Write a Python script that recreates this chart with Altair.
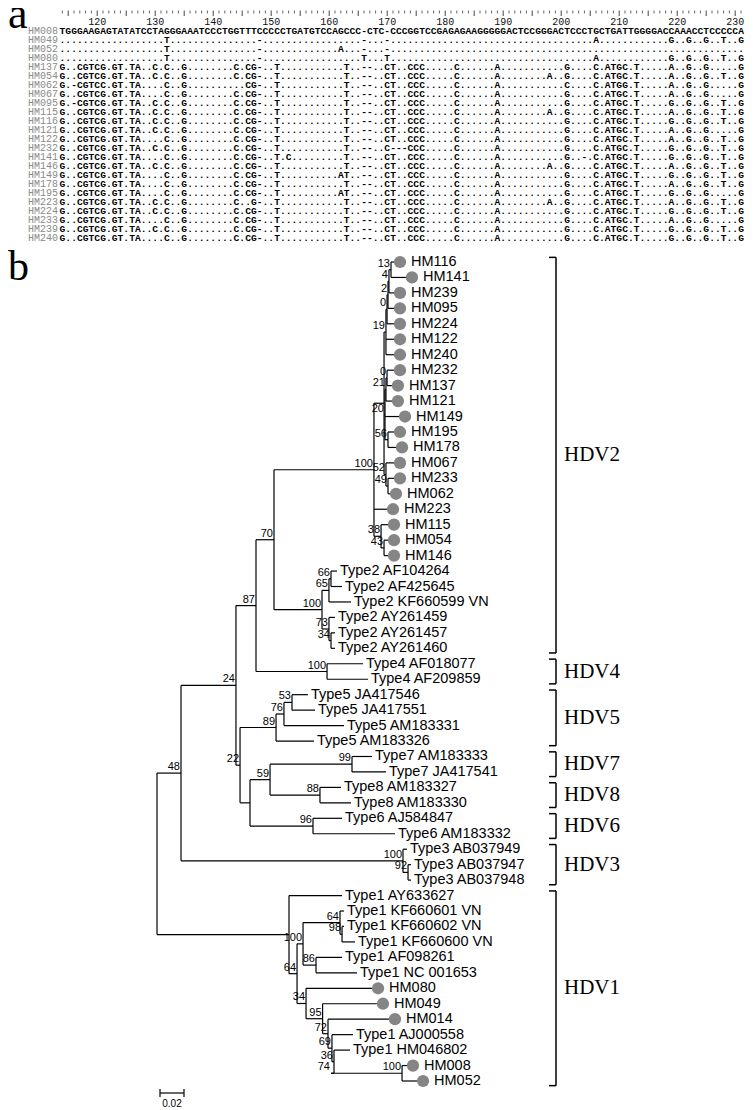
import altair as alt
import pandas as pd

W, H = 739, 1100

# ---------------- panel a : alignment ----------------
aln_first_pos = 114
ruler_label_pos = [120, 130, 140, 150, 160, 170, 180, 190, 200, 210, 220, 230]
row_names = ["HM008", "HM049", "HM052", "HM080", "HM137", "HM054", "HM062", "HM067",
             "HM095", "HM115", "HM116", "HM121", "HM122", "HM232", "HM141", "HM146",
             "HM149", "HM178", "HM195", "HM223", "HM224", "HM233", "HM239", "HM240"]
row_seqs = [
    "TGGGAAGAGTATATCCTAGGGAAATCCCTGGTTT" "CCCCCTGATGTCCAGCCC-CTC-CCC" "GGTCCGAGAGAAGGGGGACTCCGGGA" "CTCCCTGCTGATTGGGGACCAAACCTCCCCCA",
    "..................T..............." "-.................-...-..." ".........................." "......A............G..G..G..T..G",
    "..................T..............." "-.............A...-...-..." ".........................." "................................",
    "..................T..............." "-.................T...T..." ".........................." "......A............G..G..G..T..G",
    "G..CGTCG.GT.TA..C.C..G........C.CG" "-..T...........T..--..CT.." "CCC.....C......A.........." ".G....C.ATGC.T.....A..G..G.....G",
    "G..CGTCG.GT.TA..C.C..G........C.CG" "-..T...........T..--..CT.." "CCC.....C......A........A." ".G....C.ATGC.T.....A..G..G..T..G",
    "G.-CGTCC.GT.TA....C..G..........CG" "-..T...........T..--..CT.." "CCC.....C......A.........." ".C....C.ATGG.T.....A..G..G.....G",
    "G..CGTCG.GT.TA....C..G........C.CG" "-..T...........T..--..CT.." "CCC.....C......A.........." ".G....C.ATGC.T.....A..G..G.....G",
    "G.-CGTCG.GT.TA..C.C..G........C.CG" "-..T...........T..--..CT.." "CCC.....C......A.........." ".G....C.ATGC.T.....G..G..G..T..G",
    "G..CGTCG.GT.TA..C.C..G........C.CG" "-..T...........T..--..CT.." "CCC.....C......A........A." ".G....C.ATGC.T.....A..G..G..T..G",
    "G..CGTCG.GT.TA..C.C..G........C.CG" "-..T...........T..--..CT.." "CCC.....C......A.........." ".G....C.ATGC.T.....G..G..G..T..G",
    "G..CGTCG.GT.TA..C.C..G........C.CG" "-..T...........T..--..CT.." "CCC.....C......A.........." ".G....C.ATGC.T.....A..G..G.....G",
    "G..CGTCG.GT.TA....C..G........C.CG" "-..T...........T..--..CT.." "CCC.....C......A.........." ".G....C.ATGC.T.....A..G..G..T..G",
    "G..CGTCG.GT.TA..C.C..G........C.CG" "-..T...........T..--..C---" "CCC.....C......A.........." ".G....C.ATGC.T.....G..G..G..T..G",
    "G..CGTCG.GT.TA....C..G........C.CG" "-..T.C.........T..--..CT.." "CCC.....C......A.........." ".G..-.C.ATGC.T.....G..G..G..T..G",
    "G..CGTCG.GT.TA..C.C..G........C.CG" "-..T...........T..--..CT.." "CCC.....C......A........A." ".G....C.ATGC.T.....A..G..G..T..G",
    "G..CGTCG.GT.TA....C..G........C.CG" "-..T..........AT..--..CT.." "CCC.....C......A.........." ".G....C.ATGC.T.....G..G..G..T..G",
    "G..CGTCG.GT.TA....C..G........C.CG" "-..T...........T..--..CT.." "CCC.....C......A.........." ".G....C.ATGC.T.....A..G..G..T..G",
    "G..CGTCG.GT.TA....C..G........C.CG" "-..T..........AT..--..CT.." "CCC.....C......A.........." ".G....C.ATGC.T.....G..G..G.....G",
    "G..CGTCG.GT.TA..C.C..G........C..G" "-..T...........T..--..CT.." "CCC.....C......A........A." ".G....C.ATGC.T.....A..G..G..T..G",
    "G..CGTCG.GT.TA..C.C..G........C.CG" "-..T...........T..--..CT.." "CCC.....C......A.........." ".G....C.ATGC.T.....G..G..G..T..G",
    "G..CGTCG.GT.TA....C..G........C.CG" "-..T...........T..--..CT.." "CCC.....C......A.........." ".G....C.ATGC.T.....A..G..G.....G",
    "G..CGTCG.GT.TA..C.C..G........C.CG" "-..T...........T..--..CT.." "CCC.....C......A.........." ".G....C.ATGC.T.....G..G..G..T..G",
    "G..CGTCG.GT.TA....C..G........C.CG" "-..T...........T..--..CT.." "CCC.....C......A.........." ".G....C.ATGC.T.....G..G..G..T..G",
]

# ---------------- panel b : tree ----------------
leaf_names = ["HM116", "HM141", "HM239", "HM095", "HM224", "HM122", "HM240", "HM232",
              "HM137", "HM121", "HM149", "HM195", "HM178", "HM067", "HM233", "HM062",
              "HM223", "HM115", "HM054", "HM146",
              "Type2 AF104264", "Type2 AF425645", "Type2 KF660599 VN", "Type2 AY261459",
              "Type2 AY261457", "Type2 AY261460", "Type4 AF018077", "Type4 AF209859",
              "Type5 JA417546", "Type5 JA417551", "Type5 AM183331", "Type5 AM183326",
              "Type7 AM183333", "Type7 JA417541", "Type8 AM183327", "Type8 AM183330",
              "Type6 AJ584847", "Type6 AM183332", "Type3 AB037949", "Type3 AB037947",
              "Type3 AB037948", "Type1 AY633627", "Type1 KF660601 VN", "Type1 KF660602 VN",
              "Type1 KF660600 VN", "Type1 AF098261", "Type1 NC 001653", "HM080", "HM049",
              "HM014", "Type1 AJ000558", "Type1 HM046802", "HM008", "HM052"]
leaf_depth = [0.1975, 0.2075, 0.1975, 0.1975, 0.1975, 0.1975, 0.1975, 0.1975,
              0.1958, 0.1958, 0.2017, 0.1975, 0.1992, 0.1975, 0.1975, 0.1942,
              0.1917, 0.1925, 0.1925, 0.1925,
              0.1500, 0.1542, 0.1617, 0.1483, 0.1483, 0.1483, 0.1717, 0.1758,
              0.1258, 0.1317, 0.1558, 0.1308, 0.1792, 0.1908, 0.1533, 0.1617,
              0.1542, 0.1983, 0.2083, 0.2117, 0.2117, 0.1542, 0.1558, 0.1558,
              0.1650, 0.1542, 0.1667, 0.1792, 0.1833, 0.1933, 0.1633, 0.1608,
              0.2083, 0.2167]
leaf_sample = [n.startswith("HM") for n in leaf_names]

node_names = ["R", "B", "C", "F87", "F70", "S", "Top", "n19", "n0a", "n2", "n4", "n13",
              "n20", "n21", "n0b", "n56", "n52", "n49", "n38", "n43",
              "T2", "T2a", "T2aa", "T2b", "T2bb", "T4", "G", "n89", "n76", "n53",
              "K", "n59", "T7", "T8", "T6", "T3n", "T3b",
              "H1", "H1x", "H1k", "KF", "KF98", "H1af", "H1m", "H1n", "H1o", "H1p", "H1q",
              "n74", "H100"]
node_depth = [0.0, 0.020, 0.0658, 0.0825, 0.0975, 0.1808, 0.1892, 0.1908, 0.1917, 0.1925, 0.1933, 0.1950,
              0.1900, 0.1908, 0.1917, 0.1925, 0.1908, 0.1925, 0.1867, 0.1892,
              0.1375, 0.1433, 0.1450, 0.1433, 0.1450, 0.1417, 0.0692, 0.0992, 0.1058, 0.1125,
              0.0775, 0.0942, 0.1625, 0.1358, 0.1300, 0.2050, 0.2092,
              0.1100, 0.1167, 0.1217, 0.1525, 0.1542, 0.1325, 0.1242, 0.1380, 0.1425, 0.1458, 0.1475,
              0.1450, 0.2042]
node_children = [
    ["B", "H1"], ["C", "T3n"], ["F87", "G"], ["F70", "T4"], ["S", "T2"],
    ["Top", "HM223", "n38"], ["n19", "n20", "n52"], ["n0a", "HM122", "HM240"],
    ["n2", "HM224"], ["n4", "HM095"], ["n13", "HM239"], ["HM116", "HM141"],
    ["n21", "HM149", "n56"], ["n0b", "HM121"], ["HM232", "HM137"], ["HM195", "HM178"],
    ["HM067", "n49"], ["HM233", "HM062"], ["HM115", "n43"], ["HM054", "HM146"],
    ["T2a", "T2b"], ["T2aa", "Type2 KF660599 VN"], ["Type2 AF104264", "Type2 AF425645"],
    ["Type2 AY261459", "T2bb"], ["Type2 AY261457", "Type2 AY261460"],
    ["Type4 AF018077", "Type4 AF209859"], ["n89", "K"], ["n76", "Type5 AM183326"],
    ["n53", "Type5 AM183331"], ["Type5 JA417546", "Type5 JA417551"],
    ["n59", "T6"], ["T7", "T8"], ["Type7 AM183333", "Type7 JA417541"],
    ["Type8 AM183327", "Type8 AM183330"], ["Type6 AJ584847", "Type6 AM183332"],
    ["Type3 AB037949", "T3b"], ["Type3 AB037947", "Type3 AB037948"],
    ["Type1 AY633627", "H1x"], ["H1k", "H1m"], ["KF", "H1af"],
    ["Type1 KF660601 VN", "KF98"], ["Type1 KF660602 VN", "Type1 KF660600 VN"],
    ["Type1 AF098261", "Type1 NC 001653"], ["HM080", "H1n"], ["HM049", "H1o"],
    ["HM014", "H1p"], ["Type1 AJ000558", "H1q"], ["Type1 HM046802", "n74"],
    ["H100"], ["HM008", "HM052"]]
node_support = ["", "48", "24", "87", "70", "100", "", "19", "0", "2", "4", "13",
                "20", "21", "0", "56", "52", "49", "38", "43",
                "100", "65", "66", "73", "34", "100", "22", "89", "76", "53",
                "", "59", "99", "88", "96", "100", "92",
                "", "64", "100", "64", "98", "86", "34", "95", "72", "69", "36",
                "74", "100"]
clade_names = ["HDV2", "HDV4", "HDV5", "HDV7", "HDV8", "HDV6", "HDV3", "HDV1"]
clade_first = [0, 26, 28, 32, 34, 36, 38, 41]
clade_last = [25, 27, 31, 33, 35, 37, 40, 53]
scale_bar_len = 0.02

# ---------------- build tables ----------------
for s in row_seqs:
    assert len(s) == 118, len(s)
n_pos = len(row_seqs[0])
recs = []
for r, s in enumerate(row_seqs):
    for i, ch in enumerate(s):
        recs.append({"row": r, "pos": aln_first_pos + i, "ch": ch})
df_chars = pd.DataFrame(recs)
df_rows = pd.DataFrame({"row": list(range(len(row_names))), "name": row_names})
all_pos = list(range(aln_first_pos, aln_first_pos + n_pos))
df_tall = pd.DataFrame({"pos": [p for p in all_pos if p % 5 == 0]})
df_short = pd.DataFrame({"pos": [p for p in all_pos if p % 5 != 0]})
df_rlab = pd.DataFrame({"pos": ruler_label_pos, "lab": [str(p) for p in ruler_label_pos]})

XA = alt.Scale(domain=[aln_first_pos, aln_first_pos + n_pos - 1], range=[54.4, 733.0], nice=False, zero=False)
YA = alt.Scale(domain=[0, len(row_names) - 1], range=[23.0, 230.0], nice=False, zero=False)

depth = dict(zip(leaf_names, leaf_depth))
depth.update(dict(zip(node_names, node_depth)))
ypos = {n: i for i, n in enumerate(leaf_names)}
kids = dict(zip(node_names, node_children))


def gety(n):
    if n in ypos:
        return ypos[n]
    ys = [gety(c) for c in kids[n]]
    ypos[n] = (min(ys) + max(ys)) / 2.0
    return ypos[n]


for n in node_names:
    gety(n)

segs = []
for n in node_names:
    ys = [ypos[c] for c in kids[n]]
    if len(ys) > 1:
        segs.append({"x": depth[n], "x2": depth[n], "y": min(ys), "y2": max(ys)})
    for c in kids[n]:
        segs.append({"x": depth[n], "x2": depth[c], "y": ypos[c], "y2": ypos[c]})
df_segs = pd.DataFrame(segs)

df_leaf = pd.DataFrame({"name": leaf_names, "d": leaf_depth,
                        "y": list(range(len(leaf_names))), "sample": leaf_sample})
df_samp = df_leaf[df_leaf["sample"]]
df_ref = df_leaf[~df_leaf["sample"]]
df_boot = pd.DataFrame([{"d": depth[n], "y": ypos[n], "lab": s}
                        for n, s in zip(node_names, node_support) if s != ""])
df_clade = pd.DataFrame({"name": clade_names,
                         "b1": [f - 0.3 for f in clade_first],
                         "b2": [l + 0.3 for l in clade_last],
                         "mid": [(f + l) / 2.0 for f, l in zip(clade_first, clade_last)]})
df_bar = pd.DataFrame({"x": [0.0025], "x2": [0.0025 + scale_bar_len],
                       "xm": [0.0025 + scale_bar_len / 2], "lab": ["0.02"]})

XB = alt.Scale(domain=[0.0, 0.5], range=[149.0, 749.0], nice=False, zero=False)
YB = alt.Scale(domain=[0, len(leaf_names) - 1], range=[254.0, 1073.0], nice=False, zero=False)

# ---------------- layers ----------------
layers = []
# panel letters
layers.append(alt.Chart(pd.DataFrame({"t": ["a"]})).mark_text(
    font="Liberation Serif", fontSize=44, align="left", baseline="alphabetic", color="black"
).encode(text="t:N", x=alt.value(0), y=alt.value(20)))
layers.append(alt.Chart(pd.DataFrame({"t": ["b"]})).mark_text(
    font="Liberation Serif", fontSize=42, align="left", baseline="alphabetic", color="black"
).encode(text="t:N", x=alt.value(0), y=alt.value(272)))

# ruler
layers.append(alt.Chart(df_tall).mark_rule(color="#444", strokeWidth=1).encode(
    x=alt.X("pos:Q", scale=XA, axis=None), y=alt.value(2.5), y2=alt.value(8)))
layers.append(alt.Chart(df_short).mark_rule(color="#666", strokeWidth=1).encode(
    x=alt.X("pos:Q", scale=XA, axis=None), y=alt.value(2.5), y2=alt.value(5.5)))
layers.append(alt.Chart(df_rlab).mark_text(
    font="Liberation Mono", fontSize=10, baseline="middle", align="center", color="#111"
).encode(x=alt.X("pos:Q", scale=XA, axis=None), y=alt.value(14), text="lab:N"))
# row names
layers.append(alt.Chart(df_rows).mark_text(
    font="Liberation Mono", fontSize=10, baseline="middle", align="right", color="#8a8a8a"
).encode(x=alt.value(50), y=alt.Y("row:Q", scale=YA, axis=None), text="name:N"))
# sequence characters
layers.append(alt.Chart(df_chars).mark_text(
    font="Liberation Mono", fontSize=9.6, fontWeight="bold", baseline="middle", align="center", color="black"
).encode(x=alt.X("pos:Q", scale=XA, axis=None), y=alt.Y("row:Q", scale=YA, axis=None), text="ch:N"))

# tree branches
layers.append(alt.Chart(df_segs).mark_rule(color="black", strokeWidth=1.2).encode(
    x=alt.X("x:Q", scale=XB, axis=None), x2="x2:Q",
    y=alt.Y("y:Q", scale=YB, axis=None), y2="y2:Q"))
# sample circles
layers.append(alt.Chart(df_samp).mark_circle(size=150, color="#858585", opacity=1, xOffset=6).encode(
    x=alt.X("d:Q", scale=XB, axis=None), y=alt.Y("y:Q", scale=YB, axis=None)))
layers.append(alt.Chart(df_samp).mark_text(
    font="Liberation Sans", fontSize=14.5, align="left", baseline="middle", dx=17, color="black"
).encode(x=alt.X("d:Q", scale=XB, axis=None), y=alt.Y("y:Q", scale=YB, axis=None), text="name:N"))
layers.append(alt.Chart(df_ref).mark_text(
    font="Liberation Sans", fontSize=14.5, align="left", baseline="middle", dx=3, color="black"
).encode(x=alt.X("d:Q", scale=XB, axis=None), y=alt.Y("y:Q", scale=YB, axis=None), text="name:N"))
# bootstrap values
layers.append(alt.Chart(df_boot).mark_text(
    font="Liberation Sans", fontSize=11, align="right", baseline="bottom", dx=-1, dy=-1, color="black"
).encode(x=alt.X("d:Q", scale=XB, axis=None), y=alt.Y("y:Q", scale=YB, axis=None), text="lab:N"))
# clade brackets
layers.append(alt.Chart(df_clade).mark_rule(color="black", strokeWidth=1.5).encode(
    x=alt.value(548), y=alt.Y("b1:Q", scale=YB, axis=None), y2="b2:Q"))
layers.append(alt.Chart(df_clade).mark_rule(color="black", strokeWidth=1.5).encode(
    x=alt.value(541), x2=alt.value(548), y=alt.Y("b1:Q", scale=YB, axis=None)))
layers.append(alt.Chart(df_clade).mark_rule(color="black", strokeWidth=1.5).encode(
    x=alt.value(541), x2=alt.value(548), y=alt.Y("b2:Q", scale=YB, axis=None)))
layers.append(alt.Chart(df_clade).mark_text(
    font="Liberation Serif", fontSize=21, align="left", baseline="middle", color="black"
).encode(x=alt.value(556), y=alt.Y("mid:Q", scale=YB, axis=None), text="name:N"))
# scale bar
layers.append(alt.Chart(df_bar).mark_rule(color="black", strokeWidth=1.2).encode(
    x=alt.X("x:Q", scale=XB, axis=None), x2="x2:Q", y=alt.value(1085)))
layers.append(alt.Chart(df_bar).mark_rule(color="black", strokeWidth=1.2).encode(
    x=alt.X("x:Q", scale=XB, axis=None), y=alt.value(1081), y2=alt.value(1089)))
layers.append(alt.Chart(df_bar).mark_rule(color="black", strokeWidth=1.2).encode(
    x=alt.X("x2:Q", scale=XB, axis=None), y=alt.value(1081), y2=alt.value(1089)))
layers.append(alt.Chart(df_bar).mark_text(
    font="Liberation Sans", fontSize=10, align="center", baseline="middle", color="black"
).encode(x=alt.X("xm:Q", scale=XB, axis=None), y=alt.value(1096), text="lab:N"))

chart = alt.layer(*layers).resolve_scale(x="independent", y="independent").properties(
    width=W, height=H, autosize=alt.AutoSizeParams(type="none"), padding=0,
    background="white"
).configure_view(strokeWidth=0)

chart.save("out.html", embed_options={"renderer": "svg", "actions": False})
